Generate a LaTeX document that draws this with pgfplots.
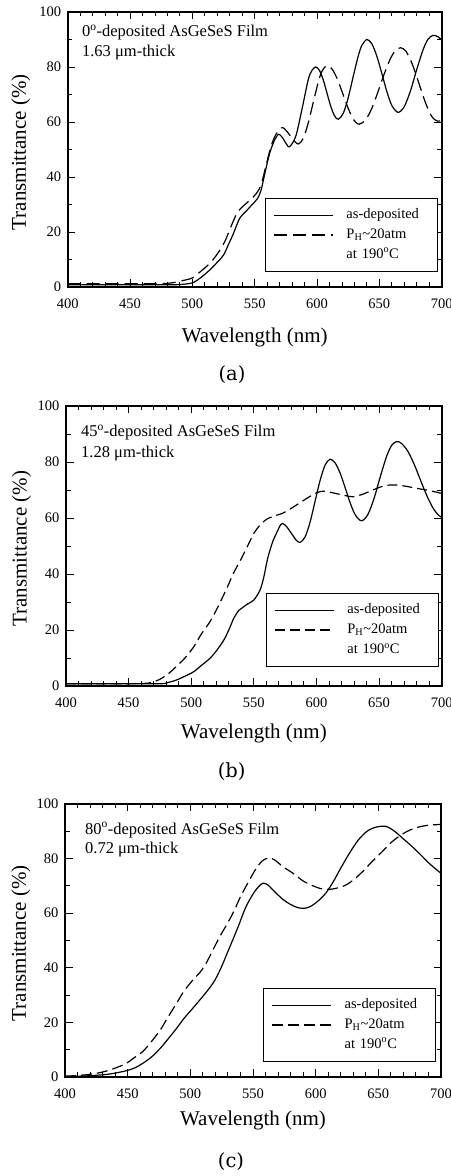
\documentclass[border=0pt]{standalone}
\usepackage{fontspec}
\setmainfont{Liberation Serif}
\newfontfamily\capfont{DejaVu Serif}
\usepackage{pgfplots}
\pgfplotsset{compat=1.18}

% transmittance spectra, wavelength (nm) vs T (%)
\pgfplotstableread{
x y
400 0.8
430 0.8
460 0.8
480 0.8
490 0.9
500 1.5
507 3.5
514 6.2
520 9
525 11.6
529 15.5
533 19.5
538 25
544 28
548 30
552 32
555 35
558 41
562 48.6
566 53.5
569 55.5
571 55
573 53.8
575 52.3
578 51
583 54.9
588 64.8
593 75.5
596 78.8
599 80
602 78.7
605 75.3
608 70.5
611 65.7
614 62.3
617 61
621 63.1
625 68.8
629 76.5
633 83.9
636 87.9
640 90
644 88.4
648 83.9
652 77.6
656 71.1
660 66
665 63.5
670 65.6
675 71.4
680 79.1
685 86.2
689 90.1
693 91.5
697 91
700 89.8
}\asdepA
\pgfplotstableread{
x y
400 1.2
430 1.2
460 1.2
475 1.2
485 1.6
492 2.3
500 3.3
507 5.8
514 8.6
520 12
526 16.5
531 22
536 27
541 29.5
546 31.5
551 33.8
555 37
559 44
563 51
567 55.5
572 58
575 57
578 55.3
581 53.5
585 52
589 54.1
593 59.7
597 67.2
601 74.5
604 78.5
608 80.5
612 79.3
616 75.9
620 71.1
624 66.1
628 61.9
631 59.9
634 59.2
639 60.8
644 65
649 71.1
654 77.6
659 83.2
663 86
667 87
671 85.9
675 82.6
679 77.8
683 72.3
687 67
691 62.8
694 61
697 60.3
700 60.5
}\annA
\pgfplotstableread{
x y
400 0.8
440 0.8
475 0.8
482 1.3
488 2.1
495 3.5
502 5.1
508 7.3
515 9.9
520 12.5
526 16.4
530 20
534 24.2
538 27
541 28
545 29.3
550 30.7
555 34.3
558 39
561 45.5
565 51.5
568 54.5
571 57.3
573 58
576 57
580 54.5
584 52
587 51.3
591 53.3
595 58.7
599 66.2
603 73.6
607 79
611 81
615 79.6
619 75.9
623 70.7
627 65.3
631 61.1
636 59
641 61.2
646 67
651 74.8
656 82
660 85.9
664 87.3
668 86.6
673 83.8
678 79.2
683 73.6
688 68.1
693 63.6
697 61.2
700 60.2
}\asdepB
\pgfplotstableread{
x y
400 0.8
440 0.8
460 0.9
468 1.2
475 2.4
482 4.5
488 6.9
495 10
502 14
508 18.5
515 23
521 28
528 34.5
534 40.5
540 45.5
545 50
550 54.5
555 57.5
560 59.5
566 60.7
573 61.7
580 63.5
587 65.5
594 67.5
600 69
606 69.6
613 69
620 68.3
629 67.6
637 68.5
645 70
652 71.2
659 71.8
666 71.7
673 71.2
680 70.6
690 69.8
700 68.8
}\annB
\pgfplotstableread{
x y
400 0.2
412 0.3
424 0.6
436 1.1
449 2.3
456 3.4
462 5
469 7.3
476 10.5
482 13.8
489 17.8
495 21.5
502 25.2
509 29
516 33
520 35.8
525 40.5
530 46
535 51.5
539 56
544 62
550 67
554 69.5
558 71
562 70.3
567 68
574 65
580 63.2
586 62
591 61.8
596 62.5
602 64.5
608 67.3
614 71.5
620 76.5
627 82
634 86.8
641 90
648 91.5
656 91.8
663 90
670 87.2
677 84.4
684 81.3
690 78.5
695 76.5
700 74.6
}\asdepC
\pgfplotstableread{
x y
400 0.3
412 0.6
420 1
428 1.6
436 2.6
442 3.6
449 5
455 7
462 9.3
469 13
476 17.2
482 21.8
489 27
495 31.5
502 35.5
508 38.5
513 42
518 46.5
523 51
528 55
534 60
540 66
547 72
552 76
557 79
562 80.2
567 79.6
574 77
582 74.6
590 71.8
598 70
604 69
610 68.7
617 69.2
624 70.3
631 72.5
638 75.5
645 78.9
653 82.5
660 85.8
667 88.3
674 90.2
681 91.4
688 92.1
695 92.4
700 92.5
}\annC

\tikzset{
  notefont/.style={font=\fontsize{16.5bp}{19bp}\selectfont, anchor=west, inner sep=0pt},
  capfont/.style={font=\capfont\fontsize{19.5bp}{22bp}\selectfont},
}

\pgfplotsset{
  spectrum/.style={
    scale only axis,
    xmin=400, xmax=700, ymin=0, ymax=100,
    xtick={400,450,...,700}, ytick={0,20,...,100},
    minor x tick num=4, minor y tick num=1,
    major tick length=7.5bp, minor tick length=4.5bp,
    every tick/.style={black, line width=0.9bp},
    axis line style={line width=1.6bp},
    /pgf/number format/assume math mode=true,
    tick label style={font=\fontsize{14.5bp}{17bp}\selectfont},
    xticklabel style={yshift=-8bp},
    yticklabel style={xshift=-3bp},
    label style={font=\fontsize{21bp}{24bp}\selectfont},
    xlabel={Wavelength (nm)},
    ylabel={Transmittance (\%)},
    legend style={
      draw=black, line width=0.6bp,
      font=\fontsize{14.5bp}{17bp}\selectfont,
      inner xsep=8bp, inner ysep=8.5bp, row sep=2.7bp,
      cells={anchor=west},
      nodes={inner sep=2bp, text height=10bp, text depth=3bp, text width=81bp},
    },
    legend image code/.code={\draw[##1] (0bp,0bp) -- (59bp,0bp); \path (70bp,0bp);},
  },
  asdep/.style={black, line width=1.2bp, smooth},
  ann/.style={black, line width=1.2bp, smooth},
}

\begin{document}
\begin{tikzpicture}
\useasboundingbox (0,0) rectangle (451bp,1176bp);

% (a) 0 degree deposition
\begin{axis}[spectrum,
  at={(67.7bp,889bp)}, anchor=south west, width=374bp, height=275bp,
  xlabel style={at={(axis description cs:0.5,-0.182)}, anchor=center},
  ylabel style={at={(axis description cs:-0.125,0.49)}, anchor=center},
  legend style={at={(axis description cs:0.5275,0.3236)}, anchor=north west}]
\addplot[asdep] table {\asdepA};
\addlegendentry{as-deposited}
\addplot[ann, dash pattern=on 13bp off 6bp] table {\annA};
\addlegendentry{P\textsubscript{H}\textasciitilde 20atm}
\addlegendimage{empty legend}
\addlegendentry{at 190\textsuperscript{o}C}
\node[notefont] at (axis description cs:0.038,0.924) {0\textsuperscript{o}-deposited AsGeSeS Film};
\node[notefont] at (axis description cs:0.038,0.851) {1.63 μm-thick};
\end{axis}

% (b) 45 degree deposition
\begin{axis}[spectrum,
  at={(66bp,490bp)}, anchor=south west, width=375.7bp, height=280bp,
  xlabel style={at={(axis description cs:0.5,-0.168)}, anchor=center},
  ylabel style={at={(axis description cs:-0.118,0.49)}, anchor=center},
  legend style={at={(axis description cs:0.532,0.332)}, anchor=north west}]
\addplot[asdep] table {\asdepB};
\addlegendentry{as-deposited}
\addplot[ann, dash pattern=on 10bp off 5bp] table {\annB};
\addlegendentry{P\textsubscript{H}\textasciitilde 20atm}
\addlegendimage{empty legend}
\addlegendentry{at 190\textsuperscript{o}C}
\node[notefont] at (axis description cs:0.04,0.904) {45\textsuperscript{o}-deposited AsGeSeS Film};
\node[notefont] at (axis description cs:0.04,0.829) {1.28 μm-thick};
\end{axis}

% (c) 80 degree deposition
\begin{axis}[spectrum,
  at={(65bp,99bp)}, anchor=south west, width=376bp, height=273bp,
  xlabel style={at={(axis description cs:0.5,-0.161)}, anchor=center},
  ylabel style={at={(axis description cs:-0.1175,0.49)}, anchor=center},
  legend style={at={(axis description cs:0.527,0.326)}, anchor=north west}]
\addplot[asdep] table {\asdepC};
\addlegendentry{as-deposited}
\addplot[ann, dash pattern=on 11bp off 5bp] table {\annC};
\addlegendentry{P\textsubscript{H}\textasciitilde 20atm}
\addlegendimage{empty legend}
\addlegendentry{at 190\textsuperscript{o}C}
\node[notefont] at (axis description cs:0.053,0.905) {80\textsuperscript{o}-deposited AsGeSeS Film};
\node[notefont] at (axis description cs:0.053,0.832) {0.72 μm-thick};
\end{axis}

% panel captions
\node[capfont] at (232bp,801.5bp) {(a)};
\node[capfont] at (231.7bp,404bp) {(b)};
\node[capfont] at (231bp,14.3bp) {(c)};
\end{tikzpicture}
\end{document}
